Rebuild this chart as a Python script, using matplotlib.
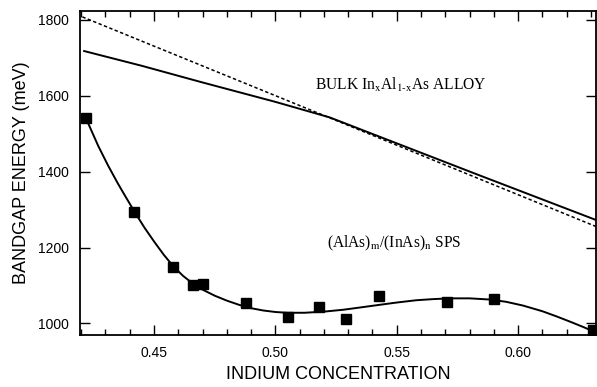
import matplotlib
matplotlib.use("Agg")
import matplotlib.pyplot as plt
from matplotlib.ticker import MultipleLocator

# measured SPS points
sps_x = [0.4219, 0.4419, 0.4579, 0.4659, 0.4700, 0.4879, 0.5050, 0.5178, 0.5289, 0.5427, 0.5709, 0.5899, 0.6308]
sps_y = [1541, 1293, 1148, 1102, 1103, 1053, 1017, 1043, 1012, 1073, 1057, 1063, 982]

# smooth fit curve through SPS data
fit_x = [0.422, 0.427, 0.431, 0.435, 0.438, 0.442, 0.446, 0.450, 0.454, 0.458, 0.462, 0.466, 0.470, 0.475,
         0.480, 0.485, 0.490, 0.495, 0.500, 0.505, 0.512, 0.520, 0.528, 0.535, 0.543, 0.550, 0.558, 0.565,
         0.572, 0.580, 0.588, 0.595, 0.602, 0.610, 0.616, 0.622, 0.627, 0.632]
fit_y = [1540, 1468, 1417, 1370, 1337, 1294, 1253, 1216, 1181, 1150, 1125, 1105, 1089, 1073,
         1060, 1049, 1040, 1034, 1030, 1028, 1028, 1031, 1036, 1042, 1049, 1055, 1061, 1064,
         1066, 1066, 1063, 1057, 1047, 1032, 1018, 1003, 990, 976]

# bulk alloy curves
bulk_solid_x = [0.4212, 0.4450, 0.4695, 0.5000, 0.5224, 0.5450, 0.5842, 0.6307, 0.6330]
bulk_solid_y = [1718, 1679, 1636, 1584, 1543, 1487, 1390, 1276, 1270]
bulk_dash_x = [0.4205, 0.6330]
bulk_dash_y = [1808, 1253]

xticks = [0.45, 0.50, 0.55, 0.60]
xticklabels = ["0.45", "0.50", "0.55", "0.60"]
yticks = [1000, 1200, 1400, 1600, 1800]

plt.rcParams["mathtext.fontset"] = "stix"

fig = plt.figure(figsize=(5.97, 3.87), dpi=100)
ax = fig.add_axes([0.134, 0.134, 0.864, 0.838])

ax.plot(bulk_dash_x, bulk_dash_y, color="black", lw=1.1, ls=(0, (2.2, 1.6)))
ax.plot(bulk_solid_x, bulk_solid_y, color="black", lw=1.4)
ax.plot(fit_x, fit_y, color="black", lw=1.4)
ax.plot(sps_x, sps_y, ls="none", marker="s", ms=6.5, color="black")

ax.set_xlim(0.4195, 0.632)
ax.set_ylim(969, 1824)
ax.set_xticks(xticks)
ax.set_xticklabels(xticklabels)
ax.set_yticks(yticks)
ax.xaxis.set_minor_locator(MultipleLocator(0.01))
ax.tick_params(which="both", direction="in", top=True, right=True)
ax.tick_params(which="major", length=7, width=1.0, labelsize=10, pad=8)
ax.tick_params(which="minor", length=4, width=1.0)
for lbl in ax.get_xticklabels() + ax.get_yticklabels():
    lbl.set_family("Liberation Sans")
for s in ax.spines.values():
    s.set_linewidth(1.3)

ax.set_xlabel("INDIUM CONCENTRATION", family="Liberation Sans", fontsize=13, labelpad=4)
ax.set_ylabel("BANDGAP ENERGY (meV)", family="Liberation Sans", fontsize=13, labelpad=6)

ax.text(0.5516, 1629, "BULK In$_{\\mathrm{x}}$Al$_{\\mathrm{1\u2010x}}$As ALLOY",
        family="Liberation Serif", fontsize=11.2, ha="center", va="center")
ax.text(0.549, 1210, r"(AlAs)$_{\mathrm{m}}$/(InAs)$_{\mathrm{n}}$ SPS",
        family="Liberation Serif", fontsize=11.2, ha="center", va="center")

fig.savefig("out.png", dpi=100)
